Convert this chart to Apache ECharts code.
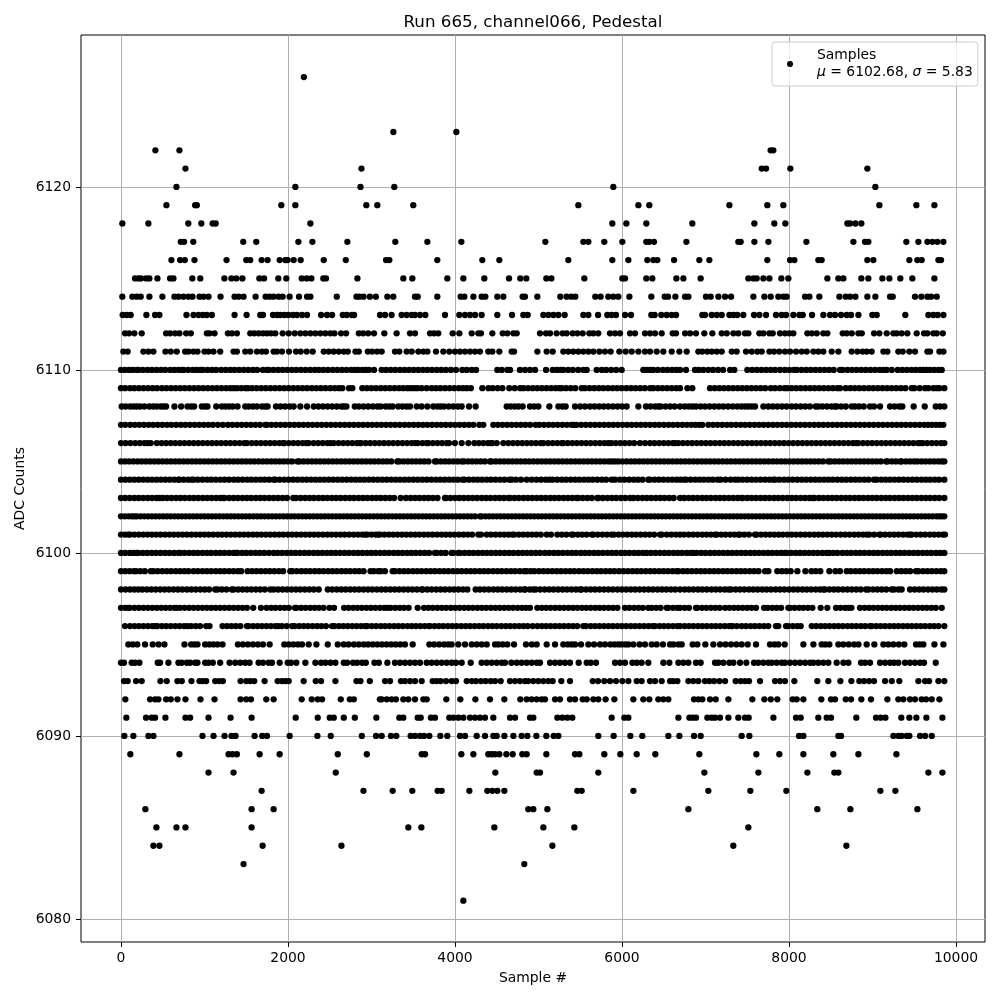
<!DOCTYPE html>
<html><head><meta charset="utf-8">
<style>html,body{margin:0;padding:0;background:#fff}#c{width:1000px;height:1000px}</style>
<script src="https://cdn.jsdelivr.net/npm/echarts@6/dist/echarts.min.js"></script>
</head><body><div id="c"></div>
<script>
const xTicks=[0,2000,4000,6000,8000,10000];
const yTicks=[6080,6090,6100,6110,6120];
const s6126=[2190];
const s6123=[3262,4016];
const s6122=[412,700,7780,7812];
const s6121=[772,2880,7673,7725,8016,8938];
const s6120=[664,2088,2868,3273,5896,9034];
const s6119=[544,888,908,1920,2088,2938,3070,3500,5477,6196,6327,7286,7740,7932,9082,9525,9741];
const s6118=[16,328,806,962,1098,1134,2268,5884,6052,6291,6842,7585,7824,7956,8699,8731,8795,8866];
const s6117=[716,756,866,1464,1620,2124,2292,2711,3285,3669,4076,5082,5537,5597,5788,6004,6291,6327,6383,6771,7393,7421,7585,7753,8208,8771,8910,8950,9405,9549,9657,9717,9777,9849];
const s6116=[604,708,764,880,1264,1500,1548,1684,1756,1900,1968,1996,2068,2152,2428,2692,3174,3214,3788,4327,4531,5357,5884,6076,6303,6375,6423,6623,6926,7046,7740,8012,8064,8351,8391,8938,9010,9441,9537,9589,9789,9821];
const s6115=[168,208,240,300,340,436,588,628,854,950,1238,1322,1382,1454,1657,1713,1884,1980,2164,2224,2280,2423,2455,2831,3381,3489,3908,4100,4351,4647,4782,4854,5094,5154,5549,6004,6036,6291,6363,6651,6735,6942,7513,7573,7613,7693,7765,7908,7992,8459,8591,8651,8866,8950,9118,9202,9333,9477,9741];
const s6114=[16,136,188,236,340,496,640,688,748,808,856,940,988,1048,1192,1360,1408,1468,1612,1732,1780,1828,1888,1936,2020,2132,2228,2268,2584,2820,2856,2904,2980,3052,3190,3261,3521,3553,3788,4068,4112,4220,4319,4363,4507,4579,4810,4838,4986,5261,5337,5393,5441,5680,5744,5836,5896,5956,6088,6351,6511,6551,6639,6755,6795,7006,7062,7154,7234,7306,7573,7705,7781,7872,7932,7972,8192,8244,8363,8603,8679,8731,8795,8938,9034,9210,9242,9509,9585,9657,9701,9769];
const s6113=[20,68,116,304,408,460,784,868,928,980,1028,1088,1360,1504,1668,1700,1820,1868,1908,1956,2004,2060,2108,2168,2228,2396,2468,2528,2656,2704,2764,2792,3102,3162,3241,3361,3421,3481,3521,3581,3645,3880,4052,4120,4180,4240,4319,4507,4683,4818,4870,5058,5118,5178,5238,5313,5537,5597,5713,5824,5876,5928,6036,6108,6351,6391,6471,6535,6595,6647,6962,6994,7074,7134,7194,7286,7334,7381,7453,7581,7645,7725,7844,7912,7964,8052,8124,8164,8276,8411,8491,8551,8623,8691,8743,8831,8998,9050,9393,9669,9729,9781,9849];
const s6112=[48,96,160,248,540,588,648,700,780,836,1028,1060,1120,1280,1328,1388,1548,1596,1648,1700,1748,1796,1848,1936,2008,2080,2148,2208,2268,2328,2388,2448,2508,2556,2636,2696,2848,2900,2960,3030,3154,3301,3461,3521,3701,3749,3800,3972,4052,4200,4279,4311,4447,4571,4627,4699,4739,5018,5090,5138,5217,5289,5337,5409,5465,5529,5609,5657,5716,5856,5916,5976,6096,6156,6275,6335,6395,6475,6607,6647,6755,6815,6886,6986,7082,7194,7254,7334,7393,7473,7513,7645,7693,7765,7805,7892,7952,8004,8052,8220,8272,8332,8411,8459,8643,8691,8751,8831,8871,9018,9082,9170,9250,9290,9349,9417,9529,9617,9657,9729,9769,9841];
const s6111=[28,80,268,328,388,532,596,668,768,808,868,916,1000,1048,1108,1188,1348,1388,1488,1548,1628,1688,1736,1828,1868,1928,2012,2096,2152,2224,2296,2428,2488,2548,2608,2668,2716,2808,2848,2956,3008,3068,3122,3281,3333,3421,3481,3561,3621,3669,3772,3860,3932,4000,4060,4120,4180,4240,4299,4399,4447,4531,4679,4707,4986,5098,5170,5297,5357,5417,5477,5537,5597,5657,5729,5796,5864,5968,6044,6116,6196,6275,6335,6415,6495,6595,6687,6775,6914,6962,7022,7074,7134,7194,7314,7373,7485,7553,7621,7673,7765,7820,7884,7952,8012,8084,8152,8212,8292,8351,8411,8511,8591,8751,8819,8882,8930,8990,9130,9178,9309,9361,9441,9509,9657,9689,9801,9849];
const s6110=[0,45,95,140,190,210,262,318,370,425,480,530,590,640,690,730,750,805,860,905,950,980,1035,1090,1140,1200,1255,1310,1360,1415,1470,1525,1580,1630,1700,1750,1770,1825,1880,1935,1990,2045,2100,2155,2210,2265,2320,2370,2425,2480,2535,2590,2645,2700,2755,2800,2840,2890,2930,2970,3030,3122,3175,3230,3285,3340,3395,3450,3505,3560,3615,3670,3725,3780,3835,3890,3950,4012,4088,4140,4200,4252,4507,4560,4627,4659,4778,4838,4898,4958,5090,5170,5220,5265,5297,5355,5410,5475,5537,5577,5697,5757,5810,5870,5930,5996,6255,6295,6335,6375,6430,6490,6545,6600,6650,6695,6767,6874,6920,6974,7034,7090,7150,7210,7294,7345,7501,7560,7615,7670,7725,7780,7832,7892,7950,8005,8060,8092,8150,8205,8260,8315,8370,8425,8480,8535,8611,8643,8700,8755,8810,8865,8920,8975,9030,9085,9130,9170,9230,9301,9355,9410,9465,9517,9569,9610,9649,9689,9740,9789,9829];
const s6109=[0,50,108,160,215,270,325,380,432,490,545,600,655,710,765,820,875,930,985,1040,1095,1150,1205,1260,1310,1350,1390,1440,1490,1520,1570,1625,1680,1735,1790,1845,1900,1955,2010,2065,2120,2175,2230,2285,2340,2395,2450,2505,2560,2610,2650,2730,2770,2890,2945,3000,3055,3110,3165,3220,3275,3330,3380,3430,3470,3510,3550,3600,3660,3720,3772,3825,3880,3935,3990,4045,4095,4140,4190,4327,4400,4450,4510,4567,4650,4715,4780,4820,4875,4930,4985,5040,5095,5150,5205,5250,5278,5330,5385,5440,5517,5557,5612,5667,5722,5777,5832,5887,5942,5997,6052,6107,6162,6217,6272,6335,6375,6430,6485,6540,6595,6650,6695,6783,6842,7054,7110,7165,7220,7275,7330,7385,7440,7495,7550,7605,7660,7715,7781,7832,7890,7945,7980,8032,8087,8142,8197,8252,8307,8362,8417,8472,8527,8580,8611,8679,8734,8789,8844,8899,8954,9009,9064,9119,9174,9229,9284,9339,9394,9469,9501,9565,9629,9669,9729,9770,9801,9860];
const s6108=[8,55,110,150,188,228,280,340,385,428,476,510,540,640,720,796,840,876,968,1005,1036,1140,1208,1250,1295,1340,1396,1488,1530,1580,1628,1688,1725,1756,1856,1910,1965,2020,2068,2148,2228,2308,2365,2420,2475,2530,2585,2640,2668,2700,2800,2848,2905,2960,3015,3070,3110,3170,3215,3253,3321,3370,3420,3461,3541,3600,3669,3740,3790,3828,3868,3925,3980,4035,4080,4168,4247,4619,4665,4715,4759,4810,4898,4950,4998,5130,5238,5285,5325,5437,5500,5557,5617,5670,5725,5780,5835,5890,5945,6000,6056,6196,6287,6340,6395,6435,6463,6520,6575,6630,6695,6750,6800,6846,6886,6940,6995,7050,7105,7160,7215,7270,7325,7380,7430,7473,7513,7555,7593,7693,7753,7805,7860,7915,7970,8032,8084,8140,8195,8250,8320,8351,8400,8455,8510,8551,8571,8625,8680,8751,8791,8840,8895,8970,9018,9090,9210,9265,9321,9357,9493,9625,9757,9810,9860];
const s6107=[0,52,110,165,220,275,330,385,440,495,550,605,660,715,770,825,880,935,990,1045,1100,1160,1220,1280,1335,1390,1445,1500,1555,1610,1665,1728,1748,1800,1855,1910,1965,2020,2075,2130,2185,2240,2295,2350,2405,2460,2515,2570,2625,2680,2735,2790,2845,2900,2955,3010,3065,3120,3175,3230,3285,3340,3395,3450,3505,3560,3615,3670,3725,3780,3835,3890,3945,4000,4055,4110,4165,4220,4291,4339,4459,4515,4570,4625,4680,4735,4790,4845,4900,4966,5010,5065,5120,5175,5230,5285,5340,5395,5425,5457,5512,5567,5622,5677,5732,5787,5842,5897,5952,6007,6062,6117,6172,6227,6282,6337,6392,6447,6502,6557,6612,6667,6722,6777,6832,6880,6926,6962,7034,7090,7145,7200,7255,7310,7365,7420,7475,7530,7585,7640,7695,7750,7805,7860,7915,7970,8025,8080,8135,8190,8245,8300,8355,8410,8465,8520,8575,8630,8685,8740,8795,8850,8905,8960,9015,9070,9125,9180,9235,9290,9345,9400,9455,9510,9565,9620,9665,9710,9760,9805,9848];
const s6106=[0,55,112,170,225,280,320,356,428,485,540,595,650,705,760,815,870,925,980,1035,1090,1145,1200,1255,1310,1365,1420,1476,1508,1565,1620,1675,1730,1785,1840,1895,1940,1956,2010,2065,2120,2175,2220,2248,2305,2360,2415,2470,2508,2548,2605,2660,2715,2770,2825,2860,2876,2930,2985,3040,3095,3150,3205,3260,3315,3370,3425,3480,3521,3553,3610,3660,3681,3735,3790,3845,3900,3928,3999,4080,4160,4232,4285,4340,4395,4427,4447,4500,4579,4639,4695,4750,4805,4860,4915,4970,5026,5058,5115,5170,5225,5278,5297,5350,5405,5460,5515,5570,5625,5680,5735,5790,5836,5872,5925,5980,6035,6090,6145,6215,6275,6335,6390,6445,6500,6555,6610,6635,6675,6730,6785,6840,6895,6950,7005,7060,7115,7170,7225,7280,7335,7390,7445,7500,7555,7610,7665,7720,7775,7830,7885,7940,7995,8050,8105,8160,8215,8270,8325,8380,8435,8490,8545,8600,8655,8710,8765,8803,8830,8885,8940,8995,9050,9105,9160,9215,9270,9325,9380,9435,9490,9545,9569,9601,9655,9710,9765,9820,9860];
const s6105=[0,48,98,148,198,248,298,348,398,448,498,548,598,648,698,748,798,848,898,948,998,1048,1098,1148,1198,1248,1298,1348,1398,1448,1498,1548,1598,1648,1698,1748,1798,1848,1898,1948,1998,2048,2112,2136,2186,2236,2286,2336,2386,2436,2486,2536,2586,2636,2686,2736,2786,2836,2886,2936,2986,3036,3086,3136,3186,3236,3309,3333,3383,3433,3483,3533,3583,3633,3683,3760,3780,3830,3880,3930,3980,4030,4080,4108,4158,4208,4258,4308,4358,4419,4439,4489,4539,4589,4639,4689,4739,4789,4839,4889,4939,4989,5039,5089,5139,5189,5239,5289,5339,5389,5439,5489,5539,5589,5639,5689,5739,5789,5839,5876,5916,5956,6006,6056,6106,6156,6206,6256,6306,6356,6406,6456,6506,6556,6606,6656,6706,6756,6806,6856,6906,6956,7006,7056,7106,7156,7206,7256,7306,7356,7406,7456,7506,7556,7606,7656,7706,7756,7806,7856,7906,7956,8006,8056,8106,8156,8206,8256,8306,8356,8406,8471,8499,8549,8599,8649,8699,8749,8799,8849,8899,8949,8999,9049,9099,9162,9178,9230,9280,9330,9349,9400,9450,9497,9537,9587,9637,9687,9737,9787,9830,9860];
const s6104=[0,52,105,160,212,265,320,372,425,480,532,585,640,688,700,750,805,848,868,920,975,1030,1082,1135,1190,1242,1295,1350,1402,1455,1510,1562,1615,1670,1722,1775,1828,1848,1900,1955,2010,2062,2115,2170,2222,2275,2330,2382,2435,2490,2542,2595,2650,2702,2755,2810,2862,2915,2970,3022,3075,3130,3182,3235,3290,3342,3395,3450,3502,3555,3610,3662,3715,3770,3822,3875,3930,3982,4035,4092,4112,4165,4220,4272,4325,4380,4432,4485,4540,4592,4651,4679,4730,4790,4858,4918,4975,5030,5085,5130,5170,5225,5278,5330,5385,5438,5490,5545,5598,5650,5705,5758,5810,5876,5916,5976,6030,6085,6140,6192,6245,6315,6335,6390,6442,6495,6550,6602,6655,6700,6743,6767,6820,6875,6928,6980,7035,7088,7146,7182,7240,7300,7353,7393,7445,7500,7552,7605,7660,7712,7765,7813,7832,7885,7940,7992,8045,8100,8152,8205,8260,8312,8365,8420,8472,8525,8580,8632,8685,8740,8792,8845,8900,8952,9018,9050,9105,9158,9210,9265,9318,9370,9425,9478,9530,9585,9638,9690,9745,9798,9860];
const s6103=[0,50,105,160,212,265,320,372,425,460,500,552,605,660,712,765,820,872,925,980,1032,1085,1140,1190,1220,1240,1295,1348,1400,1455,1508,1560,1615,1668,1720,1775,1828,1880,1935,1988,2064,2096,2150,2205,2258,2310,2365,2418,2470,2525,2578,2630,2685,2738,2790,2845,2898,2950,3005,3058,3110,3165,3218,3270,3349,3413,3469,3522,3575,3630,3682,3735,3790,3880,3892,3945,4000,4052,4105,4160,4212,4265,4320,4372,4425,4480,4532,4585,4639,4659,4712,4765,4820,4872,4925,4980,5032,5085,5140,5192,5245,5300,5352,5405,5457,5477,5530,5585,5638,5704,5717,5770,5825,5878,5930,5985,6038,6096,6136,6190,6245,6298,6350,6405,6458,6510,6565,6618,6695,6745,6800,6852,6905,6960,7012,7065,7120,7172,7225,7280,7332,7385,7433,7445,7500,7552,7605,7660,7712,7765,7820,7872,7925,7980,8032,8085,8140,8192,8245,8284,8304,8358,8410,8465,8518,8570,8625,8678,8730,8785,8838,8890,8945,8998,9050,9105,9158,9210,9265,9318,9370,9425,9478,9530,9585,9638,9690,9745,9798,9860];
const s6102=[0,45,90,130,160,190,235,280,325,370,415,460,505,550,595,640,685,730,775,820,865,910,955,1000,1045,1090,1135,1180,1225,1270,1315,1360,1405,1450,1495,1540,1585,1630,1675,1720,1765,1810,1855,1900,1945,1990,2035,2080,2125,2170,2215,2260,2305,2350,2395,2440,2485,2530,2575,2620,2665,2710,2755,2800,2845,2890,2935,2980,3025,3070,3115,3160,3205,3250,3295,3340,3385,3430,3475,3520,3565,3610,3655,3700,3745,3790,3835,3880,3925,3970,4015,4060,4105,4150,4195,4240,4299,4319,4365,4410,4455,4500,4545,4590,4635,4680,4725,4770,4815,4860,4905,4950,4995,5040,5085,5130,5175,5220,5265,5310,5355,5400,5445,5490,5535,5580,5625,5670,5715,5760,5805,5850,5895,5940,5985,6030,6075,6120,6165,6210,6255,6300,6345,6390,6435,6480,6525,6570,6615,6660,6705,6750,6795,6840,6885,6930,6975,7020,7065,7110,7155,7200,7245,7290,7335,7380,7425,7470,7515,7560,7605,7650,7695,7740,7785,7830,7875,7920,7965,8010,8055,8100,8145,8190,8235,8280,8325,8370,8415,8460,8505,8550,8595,8640,8685,8730,8775,8820,8865,8910,8955,9000,9045,9090,9135,9180,9225,9270,9315,9360,9405,9450,9495,9540,9585,9630,9675,9720,9765,9800,9829,9860];
const s6101=[0,48,88,108,160,212,265,318,370,422,475,528,580,632,685,738,790,842,895,948,1000,1052,1105,1158,1210,1262,1315,1368,1420,1472,1525,1578,1630,1682,1735,1788,1840,1892,1945,1998,2050,2102,2155,2208,2260,2312,2365,2418,2470,2522,2575,2628,2680,2732,2785,2838,2890,2924,2948,3000,3050,3080,3102,3155,3208,3260,3312,3365,3418,3470,3522,3575,3628,3680,3732,3785,3838,3890,3942,3995,4048,4100,4152,4205,4279,4311,4379,4432,4485,4538,4590,4642,4687,4711,4765,4818,4870,4922,4975,5028,5098,5150,5225,5280,5335,5397,5417,5470,5522,5575,5637,5657,5710,5765,5820,5876,5904,5958,6010,6065,6118,6170,6225,6278,6330,6385,6455,6475,6535,6590,6645,6695,6745,6800,6852,6905,6960,7012,7065,7114,7134,7188,7240,7295,7348,7393,7413,7465,7520,7593,7613,7665,7720,7772,7825,7876,7924,7980,8032,8085,8140,8192,8245,8300,8352,8405,8460,8512,8565,8620,8672,8725,8780,8832,8885,8930,8962,9020,9082,9098,9150,9205,9258,9310,9365,9418,9449,9469,9525,9578,9630,9685,9738,9790,9840,9868];
const s6100=[0,50,105,150,188,208,262,315,368,420,475,528,580,635,688,708,760,815,868,920,975,1028,1080,1135,1188,1240,1295,1348,1380,1396,1450,1502,1555,1610,1662,1715,1770,1828,1876,1930,1985,2038,2090,2145,2198,2250,2305,2358,2410,2465,2518,2570,2625,2678,2730,2785,2838,2890,2945,2998,3050,3105,3158,3210,3265,3318,3370,3425,3478,3530,3585,3638,3690,3760,3780,3835,3888,3960,3980,4040,4060,4115,4168,4220,4275,4328,4380,4435,4488,4540,4595,4648,4700,4755,4808,4860,4915,4968,5020,5078,5130,5185,5238,5290,5345,5398,5450,5505,5558,5610,5665,5718,5770,5825,5878,5930,5985,6038,6090,6145,6198,6250,6295,6347,6400,6455,6508,6560,6615,6668,6720,6775,6825,6854,6894,6948,7000,7055,7108,7160,7215,7268,7320,7375,7428,7480,7535,7588,7640,7695,7748,7800,7855,7908,7952,7972,8025,8080,8132,8185,8240,8292,8345,8400,8451,8483,8530,8579,8639,8692,8745,8800,8852,8905,8960,9012,9065,9120,9172,9225,9280,9332,9385,9440,9492,9545,9600,9652,9705,9760,9812,9860];
const s6099=[0,52,105,156,180,232,285,356,388,440,495,548,600,655,708,760,808,868,920,975,1028,1080,1135,1188,1240,1295,1348,1400,1440,1516,1570,1622,1675,1730,1782,1835,1890,1942,2028,2052,2105,2160,2212,2265,2320,2372,2425,2480,2532,2585,2640,2692,2745,2800,2852,2905,2988,3028,3080,3110,3160,3253,3281,3335,3388,3440,3495,3548,3600,3655,3708,3760,3815,3868,3920,3975,4028,4080,4135,4188,4240,4295,4348,4400,4455,4508,4560,4615,4668,4720,4775,4828,4858,4906,4950,5005,5058,5110,5165,5218,5270,5325,5378,5430,5485,5538,5590,5645,5698,5750,5805,5858,5910,5965,6018,6070,6125,6178,6230,6285,6338,6390,6445,6498,6550,6605,6655,6675,6730,6782,6835,6890,6942,6995,7050,7102,7155,7210,7262,7315,7370,7422,7475,7530,7582,7635,7713,7753,7860,7915,7968,8020,8100,8196,8268,8320,8375,8483,8555,8610,8691,8739,8795,8848,8900,8955,9008,9060,9115,9168,9210,9290,9345,9398,9450,9521,9549,9605,9658,9710,9765,9818,9860];
const s6098=[0,55,108,160,208,256,310,362,415,470,522,575,630,682,735,790,842,895,950,1002,1055,1128,1156,1208,1262,1328,1348,1402,1455,1508,1562,1615,1668,1722,1788,1828,1882,1935,1988,2042,2095,2148,2202,2255,2310,2368,2476,2530,2585,2638,2690,2745,2798,2850,2905,2958,3010,3065,3118,3170,3225,3278,3330,3385,3438,3490,3545,3601,3613,3668,3720,3775,3828,3880,3935,3988,4040,4095,4148,4247,4299,4352,4405,4460,4512,4565,4620,4672,4725,4780,4826,4842,4895,4938,4966,5020,5075,5128,5180,5235,5288,5340,5395,5448,5497,5517,5570,5625,5678,5730,5785,5838,5890,5945,5998,6050,6105,6158,6210,6265,6318,6370,6425,6478,6530,6585,6638,6695,6750,6802,6855,6910,6962,7015,7070,7122,7175,7230,7274,7305,7360,7412,7465,7520,7572,7625,7680,7732,7785,7840,7892,7945,8000,8052,8105,8160,8212,8265,8320,8372,8411,8431,8485,8538,8590,8645,8698,8750,8805,8858,8922,8950,9005,9058,9110,9165,9230,9258,9310,9349,9449,9505,9558,9610,9665,9718,9770,9825,9860];
const s6097=[0,50,88,108,162,215,268,322,375,428,482,535,588,640,668,708,762,815,868,922,975,1028,1082,1135,1188,1242,1295,1348,1402,1455,1508,1584,1676,1744,1798,1850,1905,1958,2010,2084,2104,2158,2210,2265,2318,2370,2425,2496,2552,2672,2725,2780,2832,2885,2940,2992,3045,3100,3152,3190,3230,3285,3338,3390,3445,3553,3629,3682,3735,3790,3842,3895,3950,4002,4055,4110,4162,4215,4270,4322,4375,4430,4482,4535,4590,4642,4695,4750,4802,4850,4898,4986,5040,5092,5145,5200,5252,5305,5360,5412,5465,5520,5572,5625,5680,5732,5785,5840,5892,5945,6036,6088,6145,6198,6250,6315,6355,6410,6462,6535,6555,6610,6662,6695,6750,6802,6886,6902,6958,7010,7065,7118,7170,7234,7286,7340,7392,7445,7500,7552,7605,7701,7745,7800,7852,7905,7992,8012,8065,8120,8172,8225,8280,8379,8459,8563,8615,8670,8711,8747,8850,8905,8958,9010,9065,9118,9170,9225,9278,9330,9385,9438,9490,9545,9598,9650,9705,9758,9829];
const s6096=[48,108,162,215,268,322,375,408,436,490,542,595,650,702,755,796,840,895,948,1020,1060,1216,1270,1322,1375,1430,1508,1528,1582,1635,1688,1742,1795,1848,1884,1928,1985,2048,2080,2135,2188,2240,2295,2348,2400,2455,2528,2556,2610,2662,2715,2770,2822,2875,2924,2948,3002,3055,3110,3162,3215,3270,3322,3375,3430,3481,3533,3585,3638,3689,3700,3755,3808,3860,3915,3968,4020,4075,4128,4180,4235,4288,4340,4395,4448,4500,4555,4608,4660,4715,4768,4820,4870,4930,4986,5040,5092,5145,5200,5252,5305,5360,5412,5465,5537,5569,5625,5678,5730,5785,5838,5890,5945,5998,6050,6105,6158,6210,6265,6318,6367,6395,6450,6502,6555,6610,6662,6695,6750,6802,6855,6910,6962,7015,7070,7122,7175,7230,7282,7314,7322,7375,7433,7485,7540,7592,7645,7700,7752,7844,7872,7964,7992,8045,8098,8140,8272,8325,8380,8432,8485,8540,8592,8645,8700,8752,8805,8860,8912,8970,8990,9045,9098,9150,9205,9258,9310,9365,9418,9470,9525,9578,9630,9685,9738,9790,9860];
const s6095=[88,140,195,288,380,450,520,760,840,880,916,1008,1058,1108,1156,1216,1400,1460,1520,1580,1640,1700,1780,1956,2010,2065,2120,2168,2248,2340,2476,2596,2668,2725,2790,2848,2908,2960,3015,3070,3125,3180,3235,3290,3345,3400,3493,3693,3750,3810,3870,3920,3960,4040,4120,4200,4260,4320,4380,4479,4519,4571,4627,4707,4850,4920,4978,5098,5198,5297,5350,5397,5437,5509,5597,5665,5737,5796,5860,5910,5956,5996,6040,6076,6136,6210,6275,6355,6415,6490,6575,6615,6675,6715,6846,6902,6998,7094,7174,7240,7305,7370,7433,7505,7605,7772,7825,7872,7948,8172,8292,8391,8435,8483,8591,8650,8715,8779,8831,8930,9022,9130,9190,9250,9315,9381,9521,9565,9609,9741,9849];
const s6094=[0,36,128,168,220,440,468,568,688,728,788,828,888,916,1008,1048,1100,1188,1300,1368,1428,1488,1540,1648,1700,1768,1808,1900,1996,2036,2100,2208,2328,2396,2448,2508,2568,2668,2708,2780,2828,2888,2932,3036,3088,3190,3281,3341,3401,3461,3521,3581,3661,3720,3780,3840,3900,3960,4012,4080,4188,4319,4379,4439,4499,4559,4599,4675,4739,4798,4858,4918,4978,5018,5138,5198,5257,5317,5377,5481,5577,5625,5689,5916,5976,6036,6124,6176,6235,6315,6495,6567,6675,6735,6795,6886,6942,7114,7154,7214,7286,7334,7413,7489,7581,7633,7693,7753,7793,7852,7912,7952,8012,8072,8132,8192,8252,8292,8351,8411,8471,8571,8651,8711,8862,8910,8970,9090,9150,9210,9258,9309,9389,9449,9509,9569,9617,9757];
const s6093=[36,80,180,248,472,548,676,728,844,940,980,1020,1128,1176,1220,1432,1500,1548,1596,1720,1876,1928,1968,2008,2188,2332,2396,2568,2820,2868,2980,3162,3222,3353,3401,3461,3521,3601,3732,3780,3828,3892,3960,4012,4140,4200,4251,4311,4367,4427,4479,4547,4659,4719,4778,4838,4878,4938,4998,5058,5118,5170,5273,5377,5649,5713,5788,5856,5928,6004,6076,6176,6235,6335,6395,6475,6575,6615,6663,6795,6854,6914,6994,7046,7102,7166,7234,7361,7421,7473,7521,7653,7832,7892,7952,8064,8339,8471,8615,8747,8842,8898,8958,9018,9150,9230,9321,9549,9629,9677,9789,9860];
const s6092=[52,348,408,448,540,596,676,772,952,1120,1432,1500,1556,1740,1828,2164,2284,2356,2408,2632,2740,2788,3100,3122,3182,3241,3293,3381,3441,3521,3621,3661,3896,4064,4244,4419,4591,4782,4858,4918,4978,5038,5078,5198,5257,5377,5437,5529,5577,5657,5716,5804,5908,6136,6255,6327,6435,6495,6555,6862,6914,6962,7054,7122,7274,7561,7705,7781,7860,8044,8092,8172,8387,8503,8551,8679,8743,8866,8982,9178,9309,9369,9449,9509,9589,9641,9709,9801];
const s6091=[64,300,368,408,532,772,828,1048,1312,1564,2092,2356,2500,2548,2668,2800,3058,3333,3381,3553,3589,3712,3760,3932,3980,4040,4100,4180,4240,4299,4359,4459,4659,4719,4898,4938,5226,5285,5345,5405,5876,6028,6076,6675,6807,6846,6886,7022,7074,7114,7174,7274,7393,7473,7517,7813,8084,8140,8351,8451,8503,8806,9042,9098,9154,9345,9441,9525,9645,9837];
const s6090=[40,148,328,388,976,1108,1240,1324,1372,1600,1692,1748,2020,2352,2512,2884,3054,3122,3233,3297,3469,3521,3581,3629,3693,3824,3908,4060,4120,4260,4359,4459,4499,4591,4699,4798,4866,4974,5094,5182,5238,5716,5900,6100,6243,6555,6687,6862,6942,7433,7525,8120,8172,8591,8623,9250,9309,9349,9409,9441,9569,9629,9709];
const s6089=[112,700,1288,1336,1388,1660,1900,2596,2944,3601,3641,4076,4220,4399,4439,4479,4531,4615,4691,4806,4858,5094,5437,5489,5788,5980,6176,6399,6926,7609,7884,8172,8531,8831,9286];
const s6088=[1048,1348,2572,4483,4978,5018,5716,6986,7633,8220,8543,8591,9669,9837];
const s6087=[1684,2904,3253,3489,3792,3840,4172,4387,4447,4507,4591,5465,5517,6136,7034,7537,7968,9094,9274];
const s6086=[292,1564,1828,4878,4938,5106,6795,8339,8735,9537];
const s6085=[424,664,772,1564,3441,3597,4471,5058,5429,7513];
const s6084=[388,460,1696,2640,5166,7333,8687];
const s6083=[1468,4830];
const s6081=[4100];
const rows=[[6126,s6126],[6123,s6123],[6122,s6122],[6121,s6121],[6120,s6120],[6119,s6119],[6118,s6118],[6117,s6117],[6116,s6116],[6115,s6115],[6114,s6114],[6113,s6113],[6112,s6112],[6111,s6111],[6110,s6110],[6109,s6109],[6108,s6108],[6107,s6107],[6106,s6106],[6105,s6105],[6104,s6104],[6103,s6103],[6102,s6102],[6101,s6101],[6100,s6100],[6099,s6099],[6098,s6098],[6097,s6097],[6096,s6096],[6095,s6095],[6094,s6094],[6093,s6093],[6092,s6092],[6091,s6091],[6090,s6090],[6089,s6089],[6088,s6088],[6087,s6087],[6086,s6086],[6085,s6085],[6084,s6084],[6083,s6083],[6081,s6081]];
const points=[];
rows.forEach(r=>r[1].forEach(x=>points.push([x,r[0]])));
const font='"DejaVu Sans"';
const axisCommon={
  axisLine:{show:false,onZero:false},
  axisTick:{show:true,length:5,lineStyle:{color:'#000',width:1}},
  axisLabel:{color:'#000',fontFamily:font,fontSize:13.9},
  splitLine:{show:true,lineStyle:{color:'#b0b0b0',width:1}},
  nameLocation:'middle',
  nameMoveOverlap:false,
  nameTextStyle:{color:'#000',fontFamily:font,fontSize:13.9}
};
const chart=echarts.init(document.getElementById('c'),null,{renderer:'canvas'});
chart.setOption({
  animation:false,
  backgroundColor:'#fff',
  title:{text:'Run 665, channel066, Pedestal',left:533,top:14,textAlign:'center',padding:0,
    textStyle:{color:'#000',fontFamily:font,fontSize:16.7,fontWeight:'normal'}},
  grid:{left:81,top:35,width:904,height:907,show:true,borderColor:'#000',borderWidth:1,backgroundColor:'#fff',outerBoundsMode:'none'},
  legend:{show:true,left:772,top:42,orient:'vertical',padding:[5,5,5,15],itemGap:0,itemWidth:28,itemHeight:6,
    backgroundColor:'rgba(255,255,255,0.8)',borderColor:'#ccc',borderWidth:1,borderRadius:3,
    textStyle:{color:'#000',fontFamily:font,fontSize:13.9,lineHeight:17,
      rich:{t:{fontFamily:font,fontSize:13.9,lineHeight:17,color:'#000'},
        t0:{fontFamily:font,fontSize:13.9,lineHeight:17,color:'#000',padding:[0,0,0,8]},
        i0:{fontFamily:font,fontSize:13.9,fontStyle:'italic',lineHeight:17,color:'#000',padding:[0,0,0,8]},
        i:{fontFamily:font,fontSize:13.9,fontStyle:'italic',lineHeight:17,color:'#000'}}},
    formatter:()=>'{t0|Samples}\n{i0|μ}{t| = 6102.68, }{i|σ}{t| = 5.83}',
    data:[{name:'Samples',icon:'circle'}]},
  xAxis:Object.assign({},axisCommon,{type:'value',name:'Sample #',nameGap:29,min:-479,max:10347,
    axisTick:Object.assign({},axisCommon.axisTick,{customValues:xTicks}),
    axisLabel:Object.assign({},axisCommon.axisLabel,{customValues:xTicks,margin:9,formatter:v=>String(v)})}),
  yAxis:Object.assign({},axisCommon,{type:'value',name:'ADC Counts',nameGap:54,min:6078.74,max:6128.3,
    axisTick:Object.assign({},axisCommon.axisTick,{customValues:yTicks}),
    axisLabel:Object.assign({},axisCommon.axisLabel,{customValues:yTicks,margin:10,formatter:v=>String(v)})}),
  series:[{name:'Samples',type:'scatter',data:points,symbol:'circle',symbolSize:6.3,
    itemStyle:{color:'#000',opacity:1},silent:true,large:false,progressive:0,clip:false}]
});
</script></body></html>
